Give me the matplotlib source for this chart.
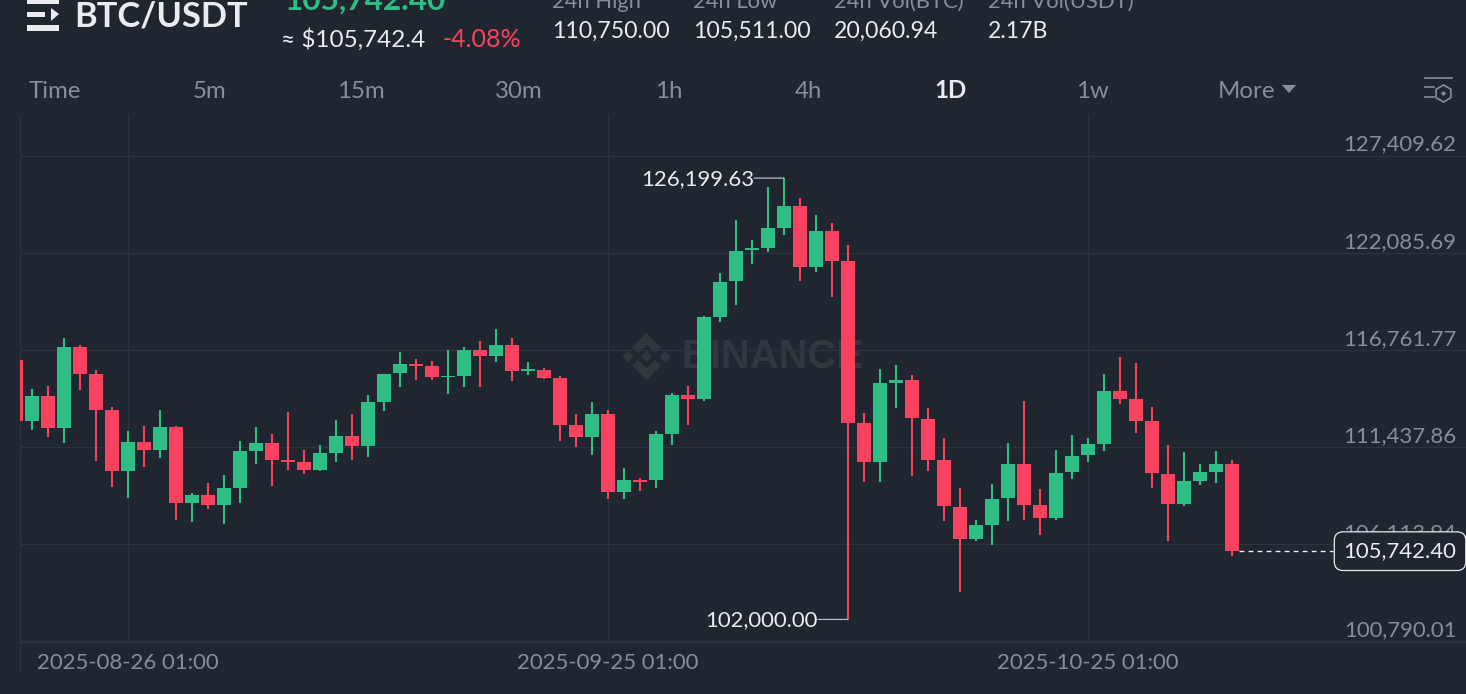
import numpy as np
import pandas as pd
import matplotlib
matplotlib.use("Agg")
import matplotlib.pyplot as plt
from matplotlib.patches import Polygon, RegularPolygon, Rectangle

W, H = 1466, 694
BG = "#1F2630"
GRID = "#2C333E"
UP = "#2EBD85"
DOWN = "#F9435E"
GRAY = "#848E9C"
WHITE = "#EAECEF"
WATERMARK = "#30373F"

plt.rcParams["font.family"] = ["Lato", "DejaVu Sans"]

# daily candles
opens = [116225, 112880, 114251, 112496, 116921, 115441, 113500, 110122, 111745, 111274,
         112551, 108384, 108806, 108258, 109223, 111235, 111690, 110725, 110648, 110193,
         111142, 112058, 111526, 113938, 115495, 116022, 115912, 115276, 115347, 116773,
         116460, 117064, 115638, 115676, 115238, 112661, 112003, 113280, 109004, 109629,
         109629, 112151, 114289, 114070, 118599, 120540, 122256, 122382, 123462, 124652,
         121340, 123298, 121653, 112787, 110648, 114980, 115145, 113006, 110742, 108165,
         106427, 107178, 108642, 110506, 108274, 107562, 110067, 110999, 111635, 114541,
         114070, 112864, 109990, 108313, 109607, 110100, 110506]
highs = [116225, 114618, 114816, 117431, 117031, 115660, 113631, 112348, 112606, 113483,
         112622, 108916, 109464, 109903, 111767, 112568, 112167, 113373, 111290, 111581,
         112918, 113280, 114306, 115484, 116663, 116263, 116170, 116757, 116954, 117266,
         117908, 117447, 116115, 115802, 115364, 113264, 113922, 113483, 110287, 109738,
         112332, 114399, 114772, 118637, 121011, 123884, 122804, 125710, 126199.63, 125124,
         124191, 123753, 122546, 113302, 115748, 115951, 115402, 113582, 111964, 109206,
         107468, 109426, 111690, 113993, 109152, 111274, 112096, 111931, 115457, 116389,
         116077, 113631, 111564, 111180, 110539, 111219, 110725]
lows = [112880, 112387, 112019, 111690, 114563, 110687, 109278, 108675, 110341, 110868,
        107468, 107342, 108071, 107249, 108400, 110522, 109333, 110210, 109974, 110155,
        110616, 110758, 110923, 113428, 114728, 115128, 115128, 114377, 114728, 114728,
        116099, 115090, 115402, 115183, 111800, 111454, 111032, 108620, 108603, 109059,
        109179, 111564, 112661, 113976, 118292, 119257, 121505, 122163, 123095, 120573,
        121066, 119662, 102000.00, 109552, 109552, 113609, 109864, 110155, 107413, 103521,
        106317, 106098, 107397, 107468, 106646, 107468, 109683, 110648, 111251, 113828,
        112206, 109206, 106300, 108236, 109387, 109464, 105494]
closes = [112880, 114251, 112496, 116921, 115441, 113500, 110122, 111745, 111274, 112551,
          108384, 108806, 108258, 109223, 111235, 111690, 110725, 110616, 110193, 111109,
          112058, 111526, 113938, 115473, 116022, 115923, 115276, 115364, 116773, 116460,
          117064, 115638, 115731, 115238, 112661, 112003, 113280, 109004, 109629, 109535,
          112151, 114289, 114070, 118582, 120518, 122218, 122382, 123462, 124652, 121340,
          123298, 121669, 112787, 110648, 114947, 115145, 113028, 110758, 108203, 106427,
          107161, 108620, 110506, 108291, 107562, 110045, 110978, 111619, 114541, 114103,
          112896, 110029, 108313, 109574, 110067, 110506, 105742.40]

dates = pd.date_range("2025-08-19 01:00", periods=len(opens), freq="D")
tick_dates = ["2025-08-26 01:00", "2025-09-25 01:00", "2025-10-25 01:00"]
price_ticks = [127409.62, 122085.69, 116761.77, 111437.86, 106113.94, 100790.01]

tabs = ["Time", "5m", "15m", "30m", "1h", "4h", "1D", "1w", "More"]
tab_x = [55, 209, 361, 519, 669, 808, 950, 1092, 1246]
stat_labels = ["24h High", "24h Low", "24h Vol(BTC)", "24h Vol(USDT)"]
stat_values = ["110,750.00", "105,511.00", "20,060.94", "2.17B"]
stat_x = [552, 693, 834, 988]


def fs(px):
    return px * 72 / 100


fig = plt.figure(figsize=(W / 100, H / 100), dpi=100, facecolor=BG)


def ftext(x, y, s, **kw):
    return fig.text(x / W, 1 - y / H, s, **kw)


# chart area, left edge at 20px, bottom at the lowest gridline
ax = fig.add_axes([20 / W, 1 - 641.5 / H, (W - 20) / W, (641.5 - 115) / H], zorder=2)
ax.patch.set_alpha(0)
ax.set_xlim(0.25, 90.625)
ax.set_ylim(price_ticks[-1], price_ticks[-1] + 526.5 * 54.83)

x = np.arange(len(opens))
o = np.array(opens)
c = np.array(closes)
colors = [UP if b >= a else DOWN for a, b in zip(opens, closes)]

ax.vlines(x, lows, highs, colors=colors, linewidth=1.5, zorder=3)
ax.bar(x, np.abs(c - o), bottom=np.minimum(o, c), width=14 / 16, color=colors, linewidth=0, zorder=4)

ticks = [dates.get_loc(pd.Timestamp(d)) for d in tick_dates]
ax.set_xticks(ticks, tick_dates)
ax.set_yticks(price_ticks, [""] * len(price_ticks))
ax.tick_params(length=0, labelsize=fs(22.2), labelcolor=GRAY, pad=8)
ax.grid(True, color=GRID, linewidth=0.9, zorder=0)
ax.set_axisbelow(True)
for name, spine in ax.spines.items():
    spine.set_visible(name in ("left", "bottom"))
    spine.set_color(GRID)
    spine.set_linewidth(0.9)

# price labels sit just above their gridline
for p in price_ticks:
    ax.annotate(f"{p:,.2f}", xy=(1, p), xycoords=("axes fraction", "data"),
                xytext=(-9.5, 11.5), textcoords="offset pixels", ha="right", va="center",
                color=GRAY, fontsize=fs(22.2), zorder=5)

# last price line and label
last = closes[-1]
ax.hlines(last, x[-1] + 0.44, 82.3, colors=WHITE, linewidth=1, linestyles=(0, (3.5, 3)), zorder=5)
ax.annotate(f"{last:,.2f}", xy=(1, last), xycoords=("axes fraction", "data"),
            xytext=(-9.5, 0), textcoords="offset pixels", ha="right", va="center",
            color=WHITE, fontsize=fs(22.2), zorder=6,
            bbox=dict(boxstyle="round,pad=0.42,rounding_size=0.4", fc=BG, ec=WHITE, lw=0.9))

# high / low callouts, leader drawn apart from the text so it stays level
i_hi = int(np.argmax(highs))
i_lo = int(np.argmin(lows))
for i, p in ((i_hi, highs[i_hi]), (i_lo, lows[i_lo])):
    ax.annotate(f"{p:,.2f}", xy=(i, p), xytext=(-30, -1), textcoords="offset pixels",
                ha="right", va="center", color=WHITE, fontsize=fs(22.2), zorder=6)
    ax.annotate("", xy=(i, p), xytext=(-30, 0), textcoords="offset pixels", zorder=6,
                arrowprops=dict(arrowstyle="-", color="#B7BDC6", lw=0.9, shrinkA=0, shrinkB=0))

# header and watermark sit in a pixel axes under the chart
header = fig.add_axes([0, 0, 1, 1], zorder=1)
header.set_xlim(0, W)
header.set_ylim(H, 0)
header.axis("off")
for bx, by, bw, bh in ((27, -1, 32, 4.5), (27, 11.5, 18, 5), (27, 25, 32, 5.5)):
    header.add_patch(Rectangle((bx, by), bw, bh, fc=WHITE, ec="none"))
header.add_patch(Polygon([(51, 8), (59, 14), (51, 21)], fc=WHITE, ec="none"))

# left border carries on past the chart, down through the date row
header.plot([20, 20], [641, 673], color=GRID, lw=0.9)

ftext(74.5, 16.5, "BTC/USDT", color=WHITE, fontsize=fs(34.5), fontweight="bold", va="center")
ftext(285, 9.5, "105,742.40", color=UP, fontsize=fs(31.5), fontweight="bold", va="baseline")
ftext(281, 39.5, "≈ $105,742.4", color=WHITE, fontsize=fs(24.3), va="center")
ftext(442, 39.5, "-4.08%", color=DOWN, fontsize=fs(25), va="center")

for sx, lab, val in zip(stat_x, stat_labels, stat_values):
    ftext(sx, 8, lab, color=GRAY, fontsize=fs(22), va="baseline")
    ftext(sx, 31.5, val, color=WHITE, fontsize=fs(23), va="center")

for tx, tab in zip(tab_x, tabs):
    active = tab == "1D"
    ftext(tx, 91, tab, color=WHITE if active else GRAY, fontsize=fs(24),
          fontweight="bold" if active else "normal", ha="center", va="center")
header.add_patch(Polygon([(1282, 85), (1296, 85), (1289, 93)], fc=GRAY, ec="none"))

# settings icon
for lx0, lx1, ly in ((1425, 1452, 78), (1425, 1434, 87), (1425, 1434, 97)):
    header.plot([lx0, lx1], [ly, ly], color=GRAY, lw=1.2)
header.add_patch(RegularPolygon((1443.5, 93.5), 6, radius=8.5, fc="none", ec=GRAY, lw=1.2))
header.add_patch(RegularPolygon((1443.5, 93.5), 4, radius=2.5, fc=GRAY, ec="none"))

# watermark
for cx, cy in ((628, 356.5), (646.5, 356.5), (665, 356.5)):
    header.add_patch(RegularPolygon((cx, cy), 4, radius=5.5, fc=WATERMARK, ec="none"))
header.add_patch(Polygon([(646.5, 333), (661, 347.5), (655, 353), (646.5, 345), (638, 353), (632, 347.5)],
                         fc=WATERMARK, ec="none"))
header.add_patch(Polygon([(646.5, 380), (661, 365.5), (655, 360), (646.5, 368), (638, 360), (632, 365.5)],
                         fc=WATERMARK, ec="none"))
header.text(681, 357, "BINANCE", color=WATERMARK, fontsize=fs(40), fontweight="bold", va="center",
            family=["Liberation Sans", "DejaVu Sans"])

fig.savefig("out.png", dpi=100, facecolor=BG)
